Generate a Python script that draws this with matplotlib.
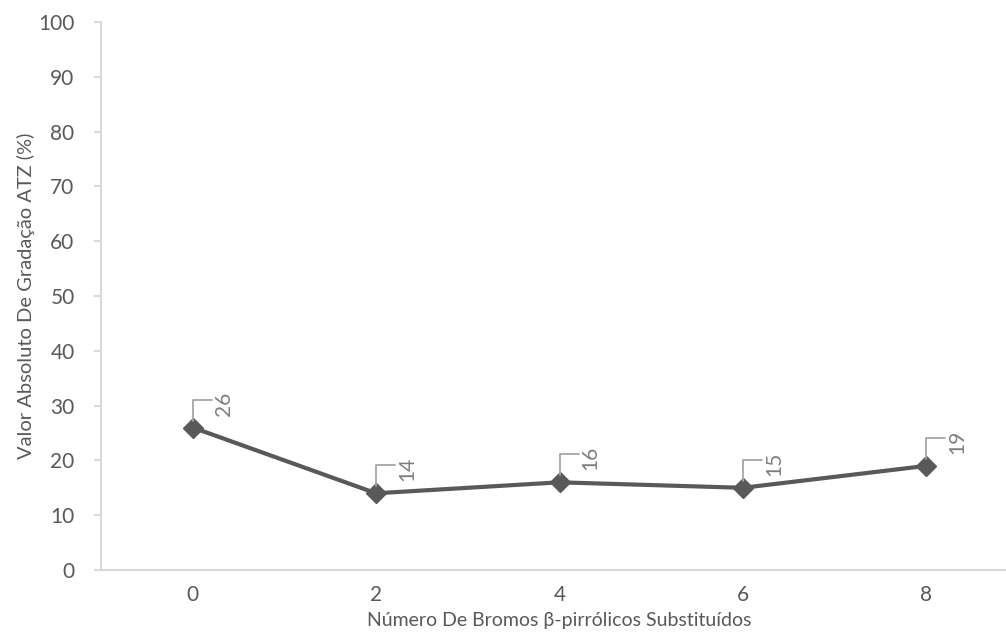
import matplotlib
matplotlib.use("Agg")
import matplotlib.pyplot as plt

plt.rcParams['font.family'] = ['Lato', 'DejaVu Sans']

categories = ["0", "2", "4", "6", "8"]
values = [26, 14, 16, 15, 19]
y_ticks = [0, 10, 20, 30, 40, 50, 60, 70, 80, 90, 100]
x_label = "Número De Bromos β-pirrólicos Substituídos"
y_label = "Valor Absoluto De Gradação ATZ (%)"

text_color = "#595959"
label_color = "#7f7f7f"
axis_color = "#d9d9d9"
line_color = "#595959"

fig = plt.figure(figsize=(10.06, 6.37), dpi=100)
ax = fig.add_axes([101 / 1006, 1 - 570 / 637, 917 / 1006, 548 / 637])

xs = list(range(len(categories)))
ax.plot(xs, values, color=line_color, linewidth=3, marker="D",
        markersize=10, markerfacecolor=line_color, markeredgecolor=line_color,
        zorder=3, clip_on=False)

for x, v in zip(xs, values):
    # leader line from the marker up and to the right
    ax.annotate("", xy=(x, v), xytext=(19, 28), textcoords="offset pixels",
                arrowprops=dict(arrowstyle="-", color="#a6a6a6", lw=1.3,
                                connectionstyle="angle,angleA=0,angleB=90,rad=0",
                                shrinkA=0, shrinkB=5))
    ax.annotate(str(v), xy=(x, v), xytext=(21, 12), textcoords="offset pixels",
                rotation=90, ha="left", va="bottom", fontsize=15,
                color=label_color)

ax.set_xlim(-0.5, len(categories) - 0.5)
ax.set_ylim(0, 100)
ax.set_xticks(xs)
ax.set_xticklabels(categories)
ax.set_yticks(y_ticks)

for side in ("top", "right"):
    ax.spines[side].set_visible(False)
for side in ("left", "bottom"):
    ax.spines[side].set_color(axis_color)
    ax.spines[side].set_linewidth(1.5)

ax.tick_params(axis="x", length=0, pad=11, labelsize=15, labelcolor=text_color)
ax.tick_params(axis="y", length=5, width=1.5, color=axis_color, pad=14,
               labelsize=15, labelcolor=text_color)

ax.set_xlabel(x_label, fontsize=14, color=text_color, labelpad=5)
ax.set_ylabel(y_label, fontsize=14.5, color=text_color, labelpad=2)

fig.savefig("out.png", dpi=100)
